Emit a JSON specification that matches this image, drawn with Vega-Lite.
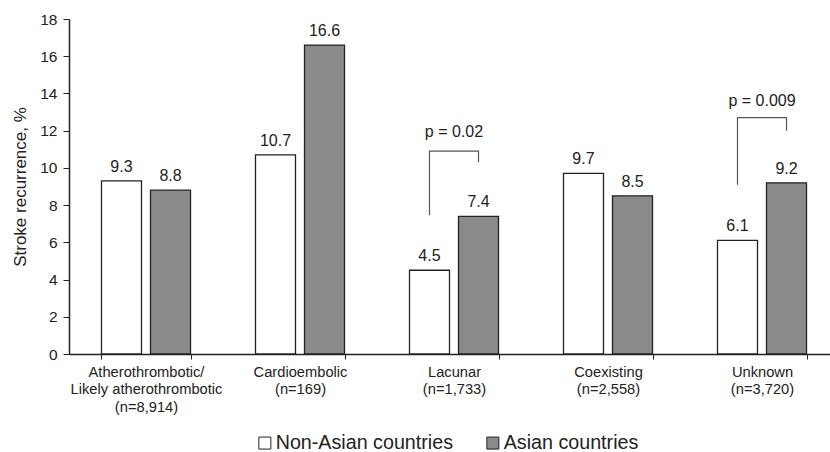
{
  "$schema": "https://vega.github.io/schema/vega-lite/v6.json",
  "width": 760,
  "height": 335,
  "autosize": {"type": "none"},
  "padding": {"left": 69, "top": 19, "right": 1, "bottom": 98},
  "background": "white",
  "config": {
    "view": {"stroke": null},
    "font": "Liberation Sans",
    "text": {"font": "Liberation Sans"}
  },
  "datasets": {
    "bars": [
      {"category": "Atherothrombotic/|Likely atherothrombotic|(n=8,914)", "group": "Non-Asian countries", "value": 9.3},
      {"category": "Atherothrombotic/|Likely atherothrombotic|(n=8,914)", "group": "Asian countries", "value": 8.8},
      {"category": "Cardioembolic|(n=169)", "group": "Non-Asian countries", "value": 10.7},
      {"category": "Cardioembolic|(n=169)", "group": "Asian countries", "value": 16.6},
      {"category": "Lacunar|(n=1,733)", "group": "Non-Asian countries", "value": 4.5},
      {"category": "Lacunar|(n=1,733)", "group": "Asian countries", "value": 7.4},
      {"category": "Coexisting|(n=2,558)", "group": "Non-Asian countries", "value": 9.7},
      {"category": "Coexisting|(n=2,558)", "group": "Asian countries", "value": 8.5},
      {"category": "Unknown|(n=3,720)", "group": "Non-Asian countries", "value": 6.1},
      {"category": "Unknown|(n=3,720)", "group": "Asian countries", "value": 9.2}
    ],
    "brackets": [
      {"bracket": "lacunar", "category": "Lacunar|(n=1,733)", "group": "Non-Asian countries", "order": 1, "value": 7.45},
      {"bracket": "lacunar", "category": "Lacunar|(n=1,733)", "group": "Non-Asian countries", "order": 2, "value": 10.9},
      {"bracket": "lacunar", "category": "Lacunar|(n=1,733)", "group": "Asian countries", "order": 3, "value": 10.9},
      {"bracket": "lacunar", "category": "Lacunar|(n=1,733)", "group": "Asian countries", "order": 4, "value": 10.3},
      {"bracket": "unknown", "category": "Unknown|(n=3,720)", "group": "Non-Asian countries", "order": 1, "value": 9.1},
      {"bracket": "unknown", "category": "Unknown|(n=3,720)", "group": "Non-Asian countries", "order": 2, "value": 12.7},
      {"bracket": "unknown", "category": "Unknown|(n=3,720)", "group": "Asian countries", "order": 3, "value": 12.7},
      {"bracket": "unknown", "category": "Unknown|(n=3,720)", "group": "Asian countries", "order": 4, "value": 12.0}
    ],
    "pvalues": [
      {"category": "Lacunar|(n=1,733)", "value": 11.65, "label": "p = 0.02"},
      {"category": "Unknown|(n=3,720)", "value": 13.35, "label": "p = 0.009"}
    ]
  },
  "encoding": {
    "x": {
      "field": "category",
      "type": "nominal",
      "sort": null,
      "scale": {
        "domain": [
          "Atherothrombotic/|Likely atherothrombotic|(n=8,914)",
          "Cardioembolic|(n=169)",
          "Lacunar|(n=1,733)",
          "Coexisting|(n=2,558)",
          "Unknown|(n=3,720)"
        ],
        "range": [0, 770],
        "paddingInner": 0.422,
        "paddingOuter": 0.211
      },
      "axis": {
        "title": null,
        "labelAngle": 0,
        "labelExpr": "split(datum.label, '|')",
        "labelFontSize": 14.7,
        "labelLineHeight": 17.5,
        "labelColor": "#222",
        "labelPadding": 5,
        "labelFont": "Liberation Sans",
        "tickBand": "extent",
        "tickSize": 5,
        "tickColor": "#222",
        "domainColor": "#222",
        "domainWidth": 1.5,
        "labelLimit": 300
      }
    },
    "y": {
      "type": "quantitative",
      "scale": {"domain": [0, 18]},
      "axis": {
        "title": "Stroke recurrence, %",
        "titleFontSize": 17,
        "titleFontWeight": "normal",
        "titleColor": "#222",
        "titleFont": "Liberation Sans",
        "titlePadding": 10,
        "values": [0, 2, 4, 6, 8, 10, 12, 14, 16, 18],
        "labelFontSize": 15.5,
        "labelColor": "#222",
        "labelFont": "Liberation Sans",
        "labelPadding": 6,
        "tickSize": 6,
        "tickColor": "#222",
        "domainColor": "#222",
        "domainWidth": 1.5,
        "grid": false
      }
    }
  },
  "layer": [
    {
      "data": {"name": "bars"},
      "mark": {"type": "bar", "stroke": "#222", "strokeWidth": 1.3},
      "encoding": {
        "y": {"field": "value", "type": "quantitative"},
        "xOffset": {
          "field": "group",
          "type": "nominal",
          "scale": {"domain": ["Non-Asian countries", "Asian countries"], "paddingInner": 0.184, "paddingOuter": 0}
        },
        "fill": {
          "field": "group",
          "type": "nominal",
          "scale": {"domain": ["Non-Asian countries", "Asian countries"], "range": ["#ffffff", "#8a8a8b"]},
          "legend": {
            "title": null,
            "orient": "none",
            "direction": "horizontal",
            "legendX": 184,
            "legendY": 412,
            "padding": 2,
            "symbolType": "square",
            "symbolSize": 144,
            "symbolStrokeColor": "#222",
            "symbolStrokeWidth": 1,
            "labelFontSize": 19.7,
            "labelFont": "Liberation Sans",
            "labelColor": "#222",
            "labelOffset": 1,
            "columnPadding": 30,
            "labelLimit": 300
          }
        }
      }
    },
    {
      "data": {"name": "bars"},
      "mark": {"type": "text", "baseline": "alphabetic", "dy": -9, "fontSize": 16, "color": "#222", "font": "Liberation Sans"},
      "encoding": {
        "y": {"field": "value", "type": "quantitative"},
        "xOffset": {"field": "group", "type": "nominal", "scale": {"domain": ["Non-Asian countries", "Asian countries"], "paddingInner": 0.184, "paddingOuter": 0}},
        "text": {"field": "value", "type": "quantitative", "format": ".1f"}
      }
    },
    {
      "data": {"name": "brackets"},
      "mark": {"type": "line", "stroke": "#555", "strokeWidth": 1.2, "interpolate": "linear"},
      "encoding": {
        "y": {"field": "value", "type": "quantitative"},
        "xOffset": {"field": "group", "type": "nominal", "scale": {"domain": ["Non-Asian countries", "Asian countries"], "paddingInner": 0.184, "paddingOuter": 0}},
        "detail": {"field": "bracket", "type": "nominal"},
        "order": {"field": "order", "type": "quantitative"}
      }
    },
    {
      "data": {"name": "pvalues"},
      "mark": {"type": "text", "baseline": "alphabetic", "fontSize": 16, "color": "#222", "font": "Liberation Sans"},
      "encoding": {
        "y": {"field": "value", "type": "quantitative"},
        "text": {"field": "label", "type": "nominal"}
      }
    }
  ]
}
